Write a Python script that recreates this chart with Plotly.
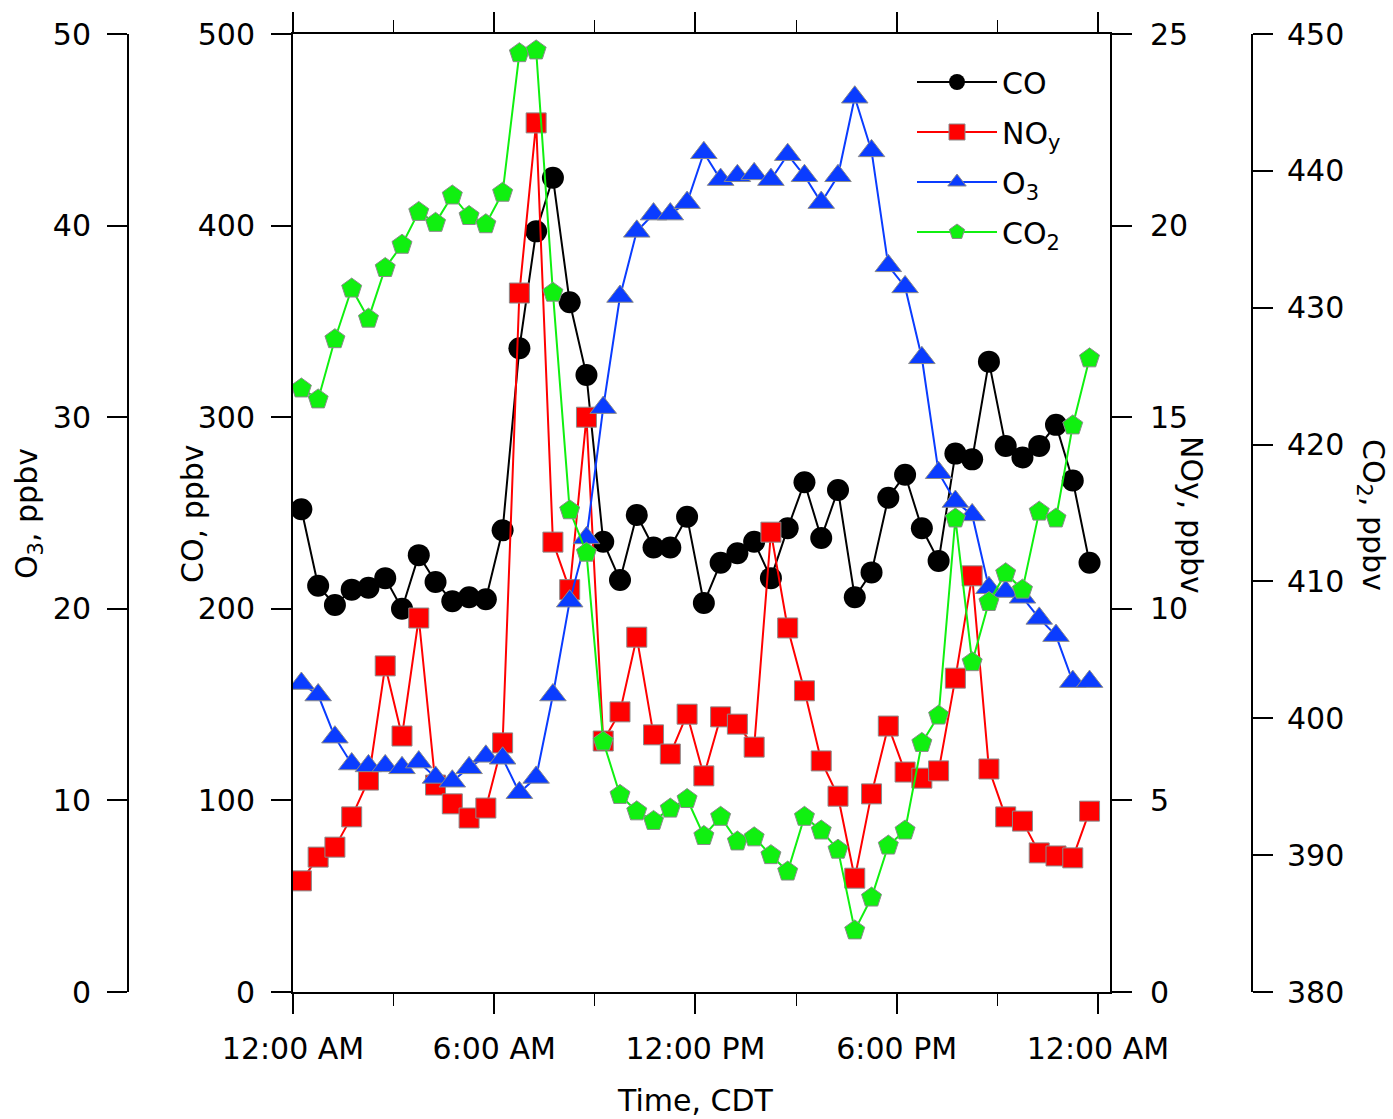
import plotly.graph_objects as go

# ---------------- data ----------------
hours = [0.25, 0.75, 1.25, 1.75, 2.25, 2.75, 3.25, 3.75, 4.25, 4.75, 5.25, 5.75,
         6.25, 6.75, 7.25, 7.75, 8.25, 8.75, 9.25, 9.75, 10.25, 10.75, 11.25, 11.75,
         12.25, 12.75, 13.25, 13.75, 14.25, 14.75, 15.25, 15.75, 16.25, 16.75, 17.25, 17.75,
         18.25, 18.75, 19.25, 19.75, 20.25, 20.75, 21.25, 21.75, 22.25, 22.75, 23.25, 23.75]

co_ppbv = [252, 212, 202, 210, 211, 216, 200, 228, 214, 204, 206, 205,
           241, 336, 397, 425, 360, 322, 235, 215, 249, 232, 232, 248,
           203, 224, 229, 235, 216, 242, 266, 237, 262, 206, 219, 258,
           270, 242, 225, 281, 278, 329, 285, 279, 285, 296, 267, 224]

noy_ppbv = [2.90, 3.52, 3.78, 4.57, 5.53, 8.51, 6.68, 9.76, 5.40, 4.91, 4.54, 4.80,
            6.50, 18.24, 22.68, 11.74, 10.50, 15.00, 6.55, 7.31, 9.26, 6.71, 6.21, 7.25,
            5.64, 7.18, 6.99, 6.39, 12.00, 9.50, 7.86, 6.03, 5.11, 2.97, 5.17, 6.94,
            5.74, 5.58, 5.77, 8.19, 10.86, 5.82, 4.57, 4.46, 3.63, 3.55, 3.50, 4.72]

o3_ppbv = [16.1, 15.5, 13.3, 11.9, 11.8, 11.8, 11.7, 12.0, 11.2, 11.0, 11.7, 12.3,
           12.2, 10.4, 11.2, 15.5, 20.4, 23.7, 30.5, 36.3, 39.7, 40.6, 40.6, 41.2,
           43.8, 42.4, 42.6, 42.7, 42.4, 43.7, 42.6, 41.2, 42.6, 46.7, 43.9, 37.9,
           36.8, 33.1, 27.1, 25.6, 24.9, 21.1, 20.9, 20.6, 19.5, 18.6, 16.2, 16.2]

co2_ppmv = [424.1, 423.3, 427.7, 431.4, 429.2, 432.9, 434.6, 437.0, 436.2, 438.2, 436.7, 436.1,
            438.4, 448.6, 448.8, 431.1, 415.2, 412.1, 398.3, 394.4, 393.2, 392.5, 393.4, 394.1,
            391.4, 392.8, 391.0, 391.3, 390.0, 388.8, 392.8, 391.8, 390.4, 384.5, 386.9, 390.7,
            391.8, 398.2, 400.2, 414.6, 404.1, 408.5, 410.6, 409.4, 415.1, 414.6, 421.4, 426.3]

x_tickvals = [0, 6, 12, 18, 24]
x_ticktext = ["12:00 AM", "6:00 AM", "12:00 PM", "6:00 PM", "12:00 AM"]

# ---------------- layout helpers ----------------
W, H = 1393, 1119
FONT = "DejaVu Sans"
FS = 30

def px(x):
    return x / W

def py(y):
    return 1 - y / H

fig = go.Figure()

outline = dict(color="#8a8a8a", width=1)

fig.add_trace(go.Scatter(
    x=hours, y=co_ppbv, name="CO", yaxis="y", mode="lines+markers", legendgroup="a",
    line=dict(color="#000000", width=2),
    marker=dict(symbol="circle", size=22, color="#000000", line=dict(color="#000000", width=0)),
))
fig.add_trace(go.Scatter(
    x=hours, y=noy_ppbv, name="NO<sub>y</sub>", yaxis="y2", mode="lines+markers", legendgroup="b",
    line=dict(color="#ff0000", width=2),
    marker=dict(symbol="square", size=20, color="#ff0000", line=outline),
))
fig.add_trace(go.Scatter(
    x=hours, y=o3_ppbv, name="O<sub>3</sub>", yaxis="y3", mode="lines+markers", legendgroup="c",
    line=dict(color="#0a3cff", width=2),
    marker=dict(symbol="triangle-up", size=23, color="#0a3cff", line=outline),
))
fig.add_trace(go.Scatter(
    x=hours, y=co2_ppmv, name="CO<sub>2</sub>", yaxis="y4", mode="lines+markers", legendgroup="d",
    line=dict(color="#10f010", width=2),
    marker=dict(symbol="pentagon", size=21, color="#10f010", line=outline),
))

axis_common = dict(
    showline=True, linecolor="#000000", linewidth=2,
    ticks="outside", ticklen=20, tickwidth=2, tickcolor="#000000",
    showgrid=False, zeroline=False, automargin=False,
    tickfont=dict(family=FONT, size=FS, color="#000000"),
)

ydom = [py(992), py(34)]

fig.update_layout(
    template="none",
    width=W, height=H,
    margin=dict(l=0, r=0, t=0, b=0, pad=0),
    paper_bgcolor="white", plot_bgcolor="white",
    font=dict(family=FONT, size=FS, color="#000000"),
    showlegend=True,
    legend=dict(
        x=px(912), y=py(56), xanchor="left", yanchor="top",
        bgcolor="rgba(0,0,0,0)", borderwidth=0,
        font=dict(family=FONT, size=FS, color="#000000"),
        itemwidth=80, tracegroupgap=8, traceorder="grouped",
    ),
    xaxis=dict(
        domain=[px(293), px(1110)],
        range=[0, 24.36],
        tickvals=x_tickvals, ticktext=x_ticktext,
        mirror="ticks",
        ticklabelstandoff=9,
        minor=dict(dtick=3, ticks="outside", ticklen=12, tickwidth=1, tickcolor="#000000"),
        **axis_common,
    ),
    yaxis=dict(
        domain=ydom, range=[0, 500], dtick=100,
        side="left", anchor="x",
        ticklabelstandoff=10,
        **axis_common,
    ),
    yaxis2=dict(
        range=[0, 25], dtick=5,
        overlaying="y", side="right", anchor="x",
        ticklabelstandoff=12,
        **axis_common,
    ),
    yaxis3=dict(
        range=[0, 50], dtick=10,
        overlaying="y", side="left", anchor="free", position=px(128),
        ticklabelstandoff=10,
        **axis_common,
    ),
    yaxis4=dict(
        range=[380, 450], dtick=10,
        overlaying="y", side="right", anchor="free", position=px(1252),
        ticklabelstandoff=8,
        **axis_common,
    ),
)

title_font = dict(family=FONT, size=FS, color="#000000")
annotations = [
    dict(text="O<sub>3</sub>, ppbv", x=px(28), y=py(514), textangle=-90),
    dict(text="CO, ppbv", x=px(192), y=py(514), textangle=-90),
    dict(text="NOy, ppbv", x=px(1191), y=py(515), textangle=90),
    dict(text="CO<sub>2</sub>, ppbv", x=px(1371), y=py(515), textangle=90),
    dict(text="Time, CDT", x=px(695), y=py(1100), textangle=0),
]
for a in annotations:
    fig.add_annotation(
        xref="paper", yref="paper", xanchor="center", yanchor="middle",
        showarrow=False, font=title_font, **a,
    )

fig.write_html("out.html")
